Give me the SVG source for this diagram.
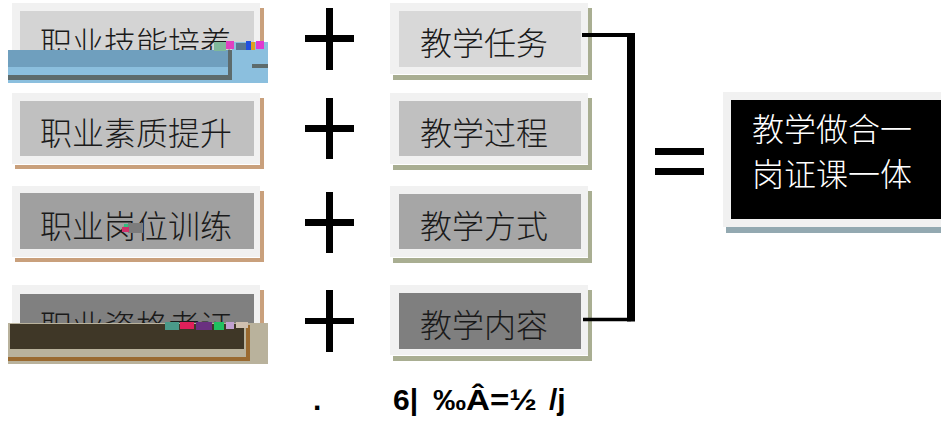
<svg xmlns="http://www.w3.org/2000/svg" width="941" height="421" viewBox="0 0 941 421">
<style>
.frame{fill:#f1f1f1}
.shL{fill:#c9a07c}
.shR{fill:#a9ae92}
.cn{font-family:"Noto Sans CJK SC","Noto Sans CJK JP",sans-serif;font-size:32px;font-weight:300;fill:#1a1a1a}
.wt{font-family:"Noto Sans CJK SC","Noto Sans CJK JP",sans-serif;font-size:32px;font-weight:300;fill:#ffffff}
.op{fill:#000}
.garb{font-family:"Liberation Sans",Arial,sans-serif;font-weight:bold;font-size:30px;fill:#000}
</style>
<rect width="941" height="421" fill="#fff"/>

<!-- left column -->
<g id="L1">
<rect class="shL" x="15" y="75" width="249" height="4"/><rect class="shL" x="260" y="8" width="4" height="71"/>
<rect class="frame" x="12" y="3" width="248" height="71"/>
<rect x="20" y="11" width="234" height="56" fill="#d4d4d4"/>
<text class="cn" x="40" y="55">职业技能培养</text>
</g>
<g id="L2">
<rect class="shL" x="15" y="165" width="249" height="4"/><rect class="shL" x="260" y="98" width="4" height="71"/>
<rect class="frame" x="12" y="93" width="248" height="71"/>
<rect x="20" y="101" width="234" height="55" fill="#c0c0c0"/>
<text class="cn" x="40" y="145">职业素质提升</text>
</g>
<g id="L3">
<rect class="shL" x="15" y="258" width="249" height="4"/><rect class="shL" x="260" y="191" width="4" height="71"/>
<rect class="frame" x="12" y="186" width="248" height="71"/>
<rect x="20" y="193" width="234" height="56" fill="#a0a0a0"/>
<text class="cn" x="40" y="238">职业岗位训练</text>
<rect x="128" y="223" width="15" height="10" fill="#7c7c7c"/>
<rect x="122" y="227" width="7" height="5" fill="#d0306a"/>
<rect x="124" y="224" width="4" height="3" fill="#30c080"/>
</g>
<g id="L4">
<rect class="shL" x="15" y="357" width="249" height="4"/><rect class="shL" x="260" y="290" width="4" height="71"/>
<rect class="frame" x="12" y="285" width="248" height="71"/>
<rect x="20" y="294" width="234" height="55" fill="#808080"/>
<text class="cn" x="40" y="338">职业资格考证</text>
</g>

<!-- right column -->
<g id="R1">
<rect class="shR" x="393" y="75" width="199" height="5"/><rect class="shR" x="588" y="8" width="4" height="72"/>
<rect class="frame" x="390" y="3" width="198" height="71"/>
<rect x="399" y="11" width="182" height="56" fill="#d8d8d8"/>
<text class="cn" x="420" y="55">教学任务</text>
</g>
<g id="R2">
<rect class="shR" x="393" y="165" width="199" height="5"/><rect class="shR" x="588" y="98" width="4" height="72"/>
<rect class="frame" x="390" y="93" width="198" height="71"/>
<rect x="399" y="101" width="182" height="55" fill="#c0c0c0"/>
<text class="cn" x="420" y="145">教学过程</text>
</g>
<g id="R3">
<rect class="shR" x="393" y="258" width="199" height="5"/><rect class="shR" x="588" y="191" width="4" height="72"/>
<rect class="frame" x="390" y="186" width="198" height="71"/>
<rect x="399" y="194" width="182" height="55" fill="#a6a6a6"/>
<text class="cn" x="420" y="238">教学方式</text>
</g>
<g id="R4">
<rect class="shR" x="393" y="356" width="199" height="5"/><rect class="shR" x="588" y="290" width="4" height="71"/>
<rect class="frame" x="390" y="285" width="198" height="70"/>
<rect x="399" y="293" width="182" height="56" fill="#7f7f7f"/>
<text class="cn" x="420" y="337">教学内容</text>
</g>

<!-- result -->
<g id="result">
<rect x="726" y="227" width="215" height="6" fill="#93a9b1"/>
<rect class="frame" x="723" y="92" width="218" height="135"/>
<rect x="731" y="100" width="210" height="119" fill="#000"/>
<text class="wt" x="752" y="141">教学做合一</text>
<text class="wt" x="752" y="186">岗证课一体</text>
</g>

<!-- operators -->
<g id="operators">
<rect class="op" x="326" y="8" width="7" height="62"/><rect class="op" x="305" y="35" width="49" height="7"/>
<rect class="op" x="326" y="98" width="7" height="61"/><rect class="op" x="305" y="125" width="49" height="7"/>
<rect class="op" x="326" y="192" width="7" height="61"/><rect class="op" x="305" y="219" width="49" height="7"/>
<rect class="op" x="326" y="290" width="7" height="62"/><rect class="op" x="305" y="318" width="49" height="6"/>
<rect class="op" x="655" y="148" width="49" height="7"/>
<rect class="op" x="655" y="168" width="49" height="7"/>
</g>

<!-- connectors -->
<g id="connectors" fill="none" stroke="#000">
<path d="M582 35 H631" stroke-width="4"/>
<path d="M583 319.5 H631" stroke-width="3.5"/>
<path d="M631 33 V321.5" stroke-width="8"/>
</g>

<!-- glitch overlay box 1 -->
<g id="glitch1">
<rect x="8" y="50" width="224" height="17" fill="#6f9fbe"/>
<rect x="8" y="67" width="260" height="16" fill="#8bbfde"/>
<rect x="232" y="42" width="36" height="25" fill="#8bbfde"/>
<rect x="8" y="75" width="224" height="5" fill="#5d6b6c"/>
<rect x="228" y="50" width="4" height="30" fill="#5d6b6c"/>
<rect x="252" y="64" width="16" height="4" fill="#5d6b6c"/>
<rect x="214" y="42" width="12" height="9" fill="#7fb89a"/>
<rect x="226" y="41" width="8" height="8" fill="#e040c0"/>
<rect x="236" y="43" width="10" height="7" fill="#5a7890"/>
<rect x="246" y="41" width="5" height="9" fill="#2050e0"/>
<rect x="251" y="42" width="4" height="8" fill="#e0a020"/>
<rect x="256" y="41" width="8" height="8" fill="#e03ad0"/>
</g>
<!-- glitch overlay box 4 -->
<g id="glitch4">
<rect x="8" y="323" width="260" height="41" fill="#b9b29c"/>
<rect x="10" y="324" width="234" height="25" fill="#3f3727"/>
<rect x="8" y="357" width="242" height="4" fill="#9a6a30"/>
<rect x="246" y="325" width="4" height="36" fill="#9a6a30"/>
<rect x="165" y="322" width="14" height="8" fill="#4a9a8a"/>
<rect x="180" y="322" width="14" height="7" fill="#e0205a"/>
<rect x="196" y="322" width="16" height="8" fill="#6a3080"/>
<rect x="214" y="322" width="10" height="8" fill="#20c060"/>
<rect x="226" y="322" width="8" height="7" fill="#c0a0d0"/>
<rect x="236" y="322" width="12" height="6" fill="#d0c0b0"/>
</g>

<g id="footer">
<text class="garb" x="313" y="410">.</text>
<text class="garb" x="393" y="410">6|</text>
<text class="garb" x="433" y="410" textLength="104" lengthAdjust="spacingAndGlyphs">‰Â=½</text>
<text class="garb" x="549" y="410">/j</text>
</g>
</svg>
